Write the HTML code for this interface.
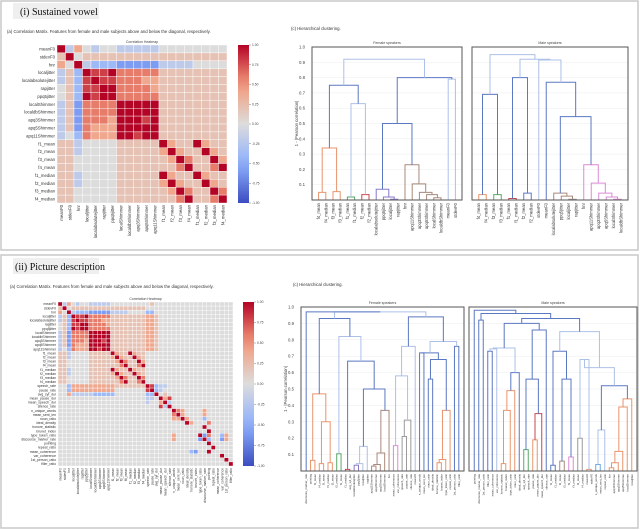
<!DOCTYPE html>
<html><head><meta charset="utf-8">
<style>
html,body{margin:0;padding:0;background:#fff;}
svg{display:block;font-family:"Liberation Sans",sans-serif;}
</style></head>
<body>
<svg id="fig" width="640" height="530" viewBox="0 0 640 530" xmlns="http://www.w3.org/2000/svg">
  <rect x="1" y="1" width="637" height="249" fill="none" stroke="#c8c8c8" stroke-width="1.5"/>
  <rect x="1" y="255" width="637" height="273" fill="none" stroke="#c8c8c8" stroke-width="1.5"/>
  <rect x="13" y="3" width="86" height="16" fill="#efefef"/>
  <text x="20" y="15" font-family="Liberation Serif,serif" font-size="10" fill="#111">(i) Sustained vowel</text>
  <rect x="13" y="258" width="86" height="16" fill="#efefef"/>
  <text x="15" y="270" font-family="Liberation Serif,serif" font-size="10" fill="#111">(ii) Picture description</text>
  <text x="7" y="33" font-size="4.3" fill="#333">(a) Correlation Matrix. Features from female and male subjects above and below the diagonal, respectively.</text>
  <text x="291" y="30" font-size="4.3" fill="#333">(c) Hierarchical clustering.</text>
  <text x="10" y="288" font-size="4.3" fill="#333">(a) Correlation Matrix. Features from female and male subjects above and below the diagonal, respectively.</text>
  <text x="293" y="286" font-size="4.3" fill="#333">(c) Hierarchical clustering.</text>
  <g id="layer"></g>
</svg>
<script>
// ---------- DATA ----------
const topLabels = ["meanF0","stdevF0","hnr","localjitter","localabsolutejitter","rapjitter","ppq5jitter","localShimmer","localdbShimmer","apq3Shimmer","apq5Shimmer","apq11Shimmer","f1_mean","f2_mean","f3_mean","f4_mean","f1_median","f2_median","f3_median","f4_median"];
const topMatrix = [
"93643443333344444444",
"59455555555555555555",
"64932221111133334444",
"35298897777755555555",
"35289887776655555555",
"45288997777655555555",
"45298997777755555555",
"35177779999955555555",
"35177779999955555555",
"35177769998955555555",
"35176669999955555555",
"34276669989955555555",
"55344445555596559655",
"55344445555569655965",
"55444445555556975596",
"55444445555555795579",
"55344445555596559655",
"55344445555569655965",
"55444445555556975597",
"55444445555555795579"];
const botLabels = topLabels.concat(["speech_rate","pause_rate","avg_syl_dur","mean_pause_dur","mean_speech_dur","silence_rate","n_unique_words","mean_sent_len","noun_ratio","ideal_density","honore_statistic","brunet_index","type_token_ratio","discourse_marker_rate","pointing","repeat_ratio","mean_coherence","var_coherence","1st_person_ratio","filler_ratio"]);
const botMatrix = [
"9364344333334444444445444444444444444444",
"5945555555555555555544444444444444444444",
"6493222111113333444422444444444444444444",
"3529889777775555555566544444444444444444",
"3528988777665555555566544444444444444444",
"4528899777765555555566544444444444444444",
"4529899777775555555566544444444444444444",
"3517777999995555555566544444444444444444",
"3517777999995555555566544444444444444444",
"3517776999895555555566544444444444444444",
"3517666999995555555566544444444444444444",
"3427666998995555555566544444444444444444",
"5534444555559655965544444444444444444444",
"5534444555556965596544444444444444444444",
"5544444555555697559644444444444444444444",
"5544444555555579557944444444444444444444",
"5534444555559655965544444444444444444444",
"5534444555556965596544444444444444444444",
"5544444555555697559744444444444444444444",
"5544444555555579557944444444444444444444",
"4426666666666555555598233444444444444444",
"4426666666666444444489234444444444444444",
"4463333322222444444422945444444444444444",
"4444444444444444444433496844444444444444",
"4444444444444444444434469344444444444444",
"4444444444444444444444483944444444444444",
"4444444444444444444444444497644446444444",
"4444444444444444444444444479644446444444",
"4444444444444444444444444466964442444444",
"4444444444444444444444444444496444744444",
"4444444444444444444444444444444449444444",
"4444444444444444444444444444444444944444",
"4444444444444444444444444464444491744264",
"4444444444444444444444444464444419244164",
"4444444444444444444444444444444444944444",
"4444444444444444444444444444444444494444",
"4444444444444444444444444444442144944444",
"4444444444444444444444444444444444444944",
"4444444444444444444444444444444444444494",
"4444444444444444444444444444444444444449"];
const cbTicks = ["1.00","0.75","0.50","0.25","0.00","-0.25","-0.50","-0.75","-1.00"];
const yTicks = [0.1,0.2,0.3,0.4,0.5,0.6,0.7,0.8,0.9,1.0];

const femTopLeaves = ["f4_mean","f4_median","f3_mean","f3_median","f1_mean","f1_median","f2_mean","f2_median","localabsolutejitter","ppq5jitter","localjitter","rapjitter","hnr","apq11Shimmer","apq3Shimmer","apq5Shimmer","localShimmer","localdbShimmer","meanF0","stdevF0"];
const femTopMerges = [
[0,1,0.05,"o"],[2,3,0.055,"o"],[20,21,0.34,"o"],
[4,5,0.02,"g"],[6,7,0.035,"r"],[23,24,0.63,"l"],[22,25,0.75,"b"],
[10,11,0.005,"p"],[9,27,0.02,"p"],[8,28,0.07,"p"],
[16,17,0.015,"n"],[15,30,0.035,"n"],[14,31,0.05,"n"],[13,32,0.105,"n"],[12,33,0.23,"n"],
[29,34,0.5,"b"],[18,19,0.79,"l"],[35,36,0.8,"b"],[26,37,0.92,"l"]];
const maleTopLeaves = ["f4_mean","f4_median","f3_mean","f3_median","f1_mean","f1_median","f2_mean","f2_median","stdevF0","meanF0","localabsolutejitter","ppq5jitter","localjitter","rapjitter","hnr","apq11Shimmer","apq3Shimmer","apq5Shimmer","localShimmer","localdbShimmer"];
const maleTopMerges = [
[0,1,0.035,"o"],[2,3,0.035,"g"],[20,21,0.69,"b"],
[4,5,0.01,"r"],[6,7,0.045,"b"],[23,24,0.8,"b"],
[12,13,0.005,"y"],[11,26,0.025,"n"],[10,27,0.045,"n"],
[18,19,0.005,"k"],[17,29,0.02,"k"],[16,30,0.045,"k"],[15,31,0.11,"k"],[14,32,0.23,"k"],
[28,33,0.545,"b"],[9,34,0.77,"b"],[8,35,0.915,"l"],[25,36,0.92,"l"],[22,37,0.95,"l"]];
const femBotLeaves = ["discourse_marker_rate","pointing","f4_mean","f4_median","f3_mean","f3_median","f2_mean","f2_median","f1_mean","f1_median","avg_syl_dur","localabsolutejitter","ppq5jitter","localjitter","rapjitter","apq11Shimmer","apq3Shimmer","apq5Shimmer","localShimmer","hnr","mean_coherence","var_coherence","speech_rate","pause_rate","silence_rate","meanF0","n_unique_words","mean_sent_len","noun_ratio","ideal_density","honore_statistic","brunet_index","type_token_ratio","repeat_ratio","1st_person_ratio","filler_ratio"];
const femBotMerges = [
[1,2,0.065,"o"],[3,4,0.045,"o"],[5,6,0.05,"o"],[37,38,0.3,"o"],[36,39,0.47,"o"],
[7,8,0.105,"g"],[9,10,0.01,"r"],
[11,12,0.035,"p"],[43,13,0.045,"l"],[44,14,0.15,"l"],
[15,16,0.03,"n"],[46,17,0.04,"n"],[47,18,0.11,"n"],[48,19,0.37,"n"],
[45,49,0.5,"b"],[42,50,0.67,"b"],[41,51,0.82,"l"],[40,52,0.93,"b"],
[20,21,0.155,"k"],[22,23,0.21,"y"],[55,24,0.31,"y"],[54,56,0.58,"l"],[57,25,0.76,"l"],
[26,27,0.72,"b"],[28,29,0.56,"b"],[30,31,0.05,"o"],[61,32,0.07,"o"],[62,33,0.37,"o"],[60,63,0.68,"b"],[59,64,0.72,"b"],
[34,35,0.76,"b"],[65,66,0.79,"l"],[58,67,0.94,"b"],[53,68,0.97,"l"],[0,69,0.97,"b"]];
const maleBotLeaves = ["pointing","discourse_marker_rate","1st_person_ratio","filler_ratio","mean_coherence","var_coherence","honore_statistic","brunet_index","type_token_ratio","noun_ratio","ideal_density","avg_syl_dur","speech_rate","pause_rate","mean_pause_dur","mean_speech_dur","silence_rate","f1_mean","f1_median","f2_mean","f2_median","f3_mean","f3_median","f4_mean","f4_median","meanF0","stdevF0","n_unique_words","mean_sent_len","repeat_ratio","hnr","apq11Shimmer","apq3Shimmer","apq5Shimmer","localShimmer","localjitter"];
const maleBotMerges = [
[1,2,0.92,"b"],[3,4,0.73,"b"],[37,5,0.745,"l"],[6,7,0.045,"o"],[39,8,0.37,"o"],[40,9,0.49,"o"],[41,10,0.6,"b"],[38,42,0.75,"l"],
[11,12,0.13,"g"],[13,14,0.19,"o"],[45,15,0.35,"r"],[44,46,0.56,"b"],[47,16,0.86,"b"],[43,48,0.9,"b"],
[17,18,0.035,"b"],[19,20,0.06,"n"],[21,22,0.085,"k"],[51,52,0.56,"b"],[50,53,0.73,"b"],
[23,24,0.2,"y"],[25,26,0.01,"o"],[55,56,0.68,"l"],[27,28,0.04,"c"],[58,29,0.25,"l"],
[30,31,0.02,"o"],[60,32,0.05,"o"],[61,33,0.12,"o"],[62,34,0.39,"o"],[63,35,0.44,"o"],[59,64,0.52,"b"],[57,65,0.63,"l"],
[54,66,0.85,"l"],[49,67,0.93,"b"],[36,68,0.96,"b"],[0,69,0.98,"b"]];

// ---------- DRAW ----------
const NS="http://www.w3.org/2000/svg";
const layer=document.getElementById('layer');
function mk(tag,attrs,parent){const e=document.createElementNS(NS,tag);for(const k in attrs)e.setAttribute(k,attrs[k]);(parent||layer).appendChild(e);return e;}
function lerp(a,b,t){return a+(b-a)*t;}
const stops=[[-1,[59,76,192]],[-0.5,[141,176,254]],[0,[221,220,220]],[0.5,[244,154,123]],[1,[180,4,38]]];
function cw(v){v=Math.max(-1,Math.min(1,v));for(let i=0;i<stops.length-1;i++){const [v0,c0]=stops[i],[v1,c1]=stops[i+1];if(v<=v1){const t=(v-v0)/(v1-v0);return `rgb(${Math.round(lerp(c0[0],c1[0],t))},${Math.round(lerp(c0[1],c1[1],t))},${Math.round(lerp(c0[2],c1[2],t))})`;}}return 'rgb(180,4,38)';}
function val(ch){return (parseInt(ch,10)-4)/5;}

function heatmap(name,x0,y0,w,h,labels,mat,fs,cbx){
  const g=mk('g',{});
  
  
  const n=labels.length,cwid=w/n,ch=h/n;
  mk('text',{x:x0+w/2,y:y0-2,'font-size':3.5,'text-anchor':'middle',fill:'#444'},g).textContent="Correlation Heatmap";
  for(let i=0;i<n;i++){
    const row=(mat[i]||"").padEnd(n,'4');
    for(let j=0;j<n;j++){
      const r=mk('rect',{x:x0+j*cwid,y:y0+i*ch,width:cwid,height:ch,fill:cw(val(row[j])),stroke:'#fff','stroke-width':0.4},g);
      
      
    }
    const t=mk('text',{x:x0-2,y:y0+i*ch+ch/2+fs*0.35,'font-size':fs,'text-anchor':'end',fill:'#333'},g);
    t.textContent=labels[i];
    
    
    const cx=x0+i*cwid+cwid/2+fs*0.35;
    const ct=mk('text',{x:cx,y:y0+h+2,'font-size':fs,'text-anchor':'end',fill:'#333',transform:`rotate(-90 ${cx} ${y0+h+2})`},g);
    ct.textContent=labels[i];
    
    
  }
  const gid='cb'+name;
  const defs=mk('defs',{},g);
  const lg=mk('linearGradient',{id:gid,x1:0,y1:0,x2:0,y2:1},defs);
  for(let k=0;k<=10;k++){mk('stop',{offset:k/10,'stop-color':cw(1-2*k/10)},lg);}
  const cb=mk('rect',{x:cbx,y:y0,width:11,height:h,fill:`url(#${gid})`},g);
  
  
  cbTicks.forEach((tk,k)=>{
    const yy=y0+k*h/(cbTicks.length-1);
    mk('line',{x1:cbx+11,x2:cbx+13,y1:yy,y2:yy,stroke:'#555','stroke-width':0.4},g);
    const t=mk('text',{x:cbx+14,y:yy+1.2,'font-size':3.3,fill:'#444'},g);
    t.textContent=tk;
    
    
  });
}

const colMap={b:'#5b78c2',l:'#adc0e8',o:'#e8956d',g:'#5aa86a',r:'#c9474c',p:'#8a78c8',k:'#dc8ad6',n:'#a88a7c',y:'#9a9a9a',c:'#6aa8e0'};
function dendro(name,x0,y0,x1,y1,leaves,merges,title,showY,fs){
  const g=mk('g',{});
  
  
  const n=leaves.length,w=x1-x0,h=y1-y0;
  const X=i=>x0+3+(i+0.5)*(w-6)/n;
  const Y=v=>y1-v*h;
  yTicks.forEach(t=>{
    mk('line',{x1:x0,x2:x1,y1:Y(t),y2:Y(t),stroke:'#ececec','stroke-width':0.5},g);
    if(showY){const tt=mk('text',{x:x0-7,y:Y(t)+1.5,'font-size':4.3,'text-anchor':'end',fill:'#444'},g);tt.textContent=t.toFixed(1);
      
      }
  });
  if(showY){const cx=x0-14,cy=y0+h/2;const yt=mk('text',{x:cx,y:cy,'font-size':4.3,'text-anchor':'middle',fill:'#444',transform:`rotate(-90 ${cx} ${cy})`},g);yt.textContent="1 - |Pearson correlation|";
    
    }
  const tl=mk('text',{x:x0+w/2,y:y0-3,'font-size':3.6,'text-anchor':'middle',fill:'#444'},g);
  tl.textContent=title;
  
  
  const pos=[],hh=[];
  for(let i=0;i<n;i++){pos[i]=X(i);hh[i]=0;}
  merges.forEach((m,k)=>{
    const [a,b,v,c]=m;const id=n+k;
    const xa=pos[a],xb=pos[b];
    const p=mk('path',{d:`M${xa},${Y(hh[a])}V${Y(v)}H${xb}V${Y(hh[b])}`,fill:'none',stroke:colMap[c]||'#5b78c2','stroke-width':1},g);
    
    
    pos[id]=(xa+xb)/2;hh[id]=v;
  });
  mk('rect',{x:x0,y:y0,width:w,height:h,fill:'none',stroke:'#555','stroke-width':1},g);
  leaves.forEach((lb,i)=>{
    const cx=X(i)+fs*0.35,cy=y1+3;
    const t=mk('text',{x:cx,y:cy,'font-size':fs,'text-anchor':'end',fill:'#333',transform:`rotate(-90 ${cx} ${cy})`},g);
    t.textContent=lb;
    
    
  });
}

heatmap('correlation-heatmap-vowel',57,45,170,158,topLabels,topMatrix,4.3,238);
heatmap('correlation-heatmap-picture',58,302,175,164,botLabels,botMatrix,3.4,243);
dendro('dendrogram-female-vowel',312,47,462,200,femTopLeaves,femTopMerges,"Female speakers",true,4.2);
dendro('dendrogram-male-vowel',472,47,628,200,maleTopLeaves,maleTopMerges,"Male speakers",false,4.2);
dendro('dendrogram-female-picture',301,307,464,471,femBotLeaves,femBotMerges,"Female speakers",true,2.9);
dendro('dendrogram-male-picture',469,307,637,471,maleBotLeaves,maleBotMerges,"Male speakers",false,2.9);
</script>
</body></html>
